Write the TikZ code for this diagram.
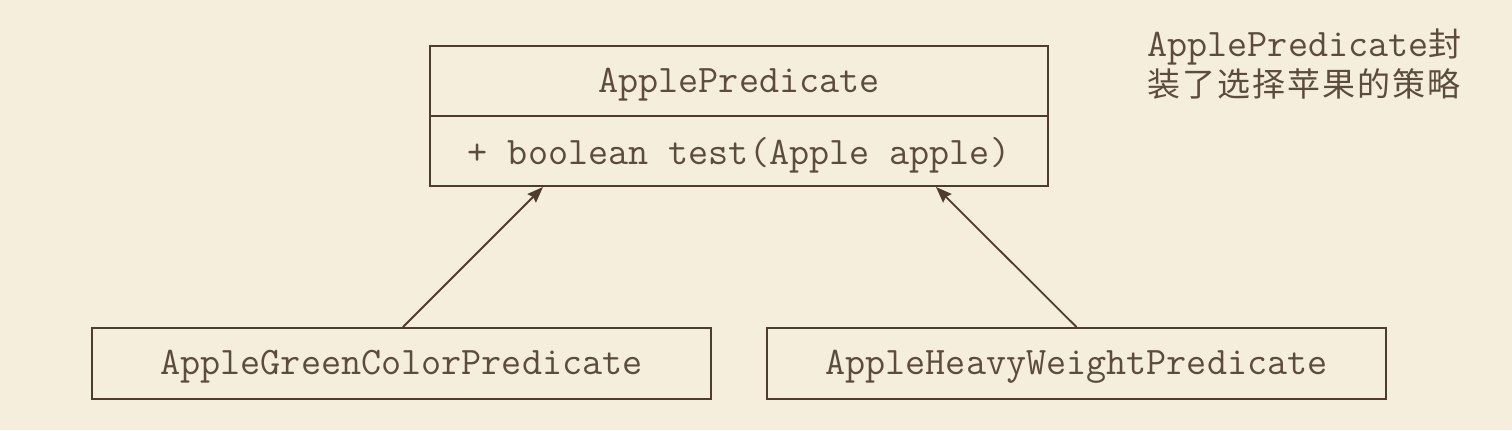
\documentclass[tikz,border=0pt]{standalone}
\usepackage{fontspec}
\newfontfamily\cjk{Noto Sans CJK SC}
\usetikzlibrary{arrows.meta,calc}
\definecolor{bg}{RGB}{245,238,220}
\definecolor{ink}{RGB}{78,60,46}
\definecolor{txt}{RGB}{92,76,62}
\begin{document}
\begin{tikzpicture}[x=0.5pt,y=-0.5pt,
  box/.style={draw=ink,line width=1pt,rectangle,inner sep=0pt},
  lbl/.style={text=txt,inner sep=0pt,font=\fontsize{19.5pt}{22pt}\selectfont\ttfamily},
  arr/.style={draw=ink,line width=0.9pt,-{Stealth[length=8pt,width=6pt,inset=1pt]}}]
\fill[bg] (0,0) rectangle (1512,430);
\useasboundingbox (0,0) rectangle (1512,430);
% top class
\node[box,minimum width=309pt,minimum height=70pt] (ap) at (739,116) {};
\draw[ink,line width=1pt] (ap.west) -- (ap.east);
\node[lbl] (apname) at (739,85) {ApplePredicate};
\node[lbl] (apop) at (739,155) {+ boolean test(Apple apple)};
% subclasses
\node[box,minimum width=309.5pt,minimum height=35.5pt,lbl,text depth=1pt] (gl) at (401.5,363.5) {AppleGreenColorPredicate};
\node[box,minimum width=309.5pt,minimum height=35.5pt,lbl,text depth=1pt] (hw) at (1076.5,363.5) {AppleHeavyWeightPredicate};
% arrows
\draw[arr] ($(gl.north)+(1.5,0)$) -- ($(ap.south)+(-196,0)$);
\draw[arr] (hw.north) -- ($(ap.south)+(197,0)$);
% note
\node[lbl,anchor=west] (note1) at (1147,47) {ApplePredicate{\cjk\fontsize{16.5pt}{20pt}\selectfont 封}};
\node[lbl,anchor=west] (note2) at (1147,84) {\cjk\fontsize{16.5pt}{20pt}\selectfont\makebox[156.5pt][s]{装\hfill 了\hfill 选\hfill 择\hfill 苹\hfill 果\hfill 的\hfill 策\hfill 略}};
\end{tikzpicture}
\end{document}
